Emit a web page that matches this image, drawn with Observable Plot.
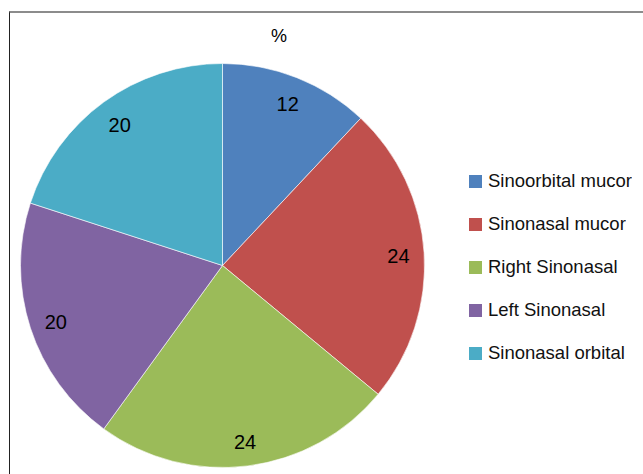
<!DOCTYPE html>
<html>
<head>
<meta charset="utf-8">
<script src="https://cdn.jsdelivr.net/npm/d3@7"></script>
<script src="https://cdn.jsdelivr.net/npm/@observablehq/plot@0.6"></script>
<style>
html, body { margin: 0; padding: 0; background: #fff; }
#wrap { position: relative; width: 643px; height: 474px; overflow: hidden; font-family: "Liberation Sans", Arial, sans-serif; }
#wrap svg.chart { position: absolute; left: 0; top: 0; }
#frame { position: absolute; left: 9px; top: 11px; width: 700px; height: 500px; border-top: 2px solid #8c8c8c; border-left: 1px solid #222; box-sizing: border-box; pointer-events: none; }
#title { position: absolute; left: 279px; top: 36px; transform: translate(-50%, -50%); font-size: 18px; color: #000; line-height: 20px; }
#legend { position: absolute; left: 469px; top: 171px; }
#legend .lg-swatch { padding-bottom: 23px; line-height: 20px; height: 20px; }
#legend .lg-swatch svg { margin-right: 6px; }
</style>
</head>
<body>
<div id="wrap"><div id="frame"></div><div id="title"></div><div id="legend"></div></div>
<script>
// ---- data ----
const categories = ["Sinoorbital mucor", "Sinonasal mucor", "Right Sinonasal", "Left Sinonasal", "Sinonasal orbital"];
const values = [12, 24, 24, 20, 20];
const colors = ["#4F81BD", "#C0504D", "#9BBB59", "#8064A2", "#4BACC6"];
const titleText = "%";

// ---- build ----
const table = categories.map((c, i) => ({category: c, value: values[i]}));
const arcs = d3.pie().sort(null).value(d => d.value)(table);
const labelArc = d3.arc().innerRadius(0.87).outerRadius(0.87);
const labels = arcs.map(a => {
  const [lx, ly] = labelArc.centroid(a);
  return {x: lx, y: ly, text: String(a.data.value)};
});

const colorOpts = {type: "ordinal", domain: categories, range: colors};
const colorScale = Plot.scale({color: colorOpts});

const wedges = (index, scales) => {
  const x = scales.x, y = scales.y;
  const cx = x(0), cy = y(0), r = x(1) - x(0);
  const fill = scales.color ? scales.color : (c) => colorScale.apply(c);
  const arc = d3.arc().innerRadius(0).outerRadius(r);
  const g = d3.create("svg:g").attr("transform", `translate(${cx},${cy})`);
  g.selectAll("path").data(arcs).join("path")
    .attr("d", arc)
    .attr("fill", d => fill(d.data.category))
    .attr("stroke", "#ffffff")
    .attr("stroke-width", 0.6)
    .attr("stroke-linejoin", "round");
  return g.node();
};

const chart = Plot.plot({
  width: 643,
  height: 474,
  margin: 0,
  className: "chart",
  style: {fontFamily: "'Liberation Sans', Arial, sans-serif", background: "transparent", overflow: "visible"},
  x: {domain: [-1, 1], range: [20.5, 424.5], axis: null},
  y: {domain: [-1, 1], range: [63.5, 467.5], axis: null},
  color: colorOpts,
  marks: [
    wedges,
    Plot.text(labels, {x: "x", y: "y", text: "text", fill: "#000", fontSize: 20, dy: 2})
  ]
});
chart.classList.add("chart");
document.getElementById("wrap").insertBefore(chart, document.getElementById("frame"));

document.getElementById("title").textContent = titleText;

const legend = Plot.legend({
  color: colorOpts,
  columns: 1,
  swatchSize: 13,
  className: "lg",
  style: {fontFamily: "'Liberation Sans', Arial, sans-serif", fontSize: "18.5px", color: "#111", margin: 0}
});
document.getElementById("legend").appendChild(legend);
</script>
</body>
</html>
